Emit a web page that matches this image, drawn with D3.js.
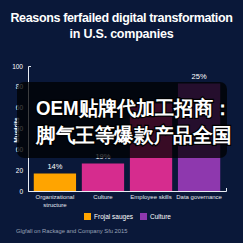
<!DOCTYPE html>
<html><head><meta charset="utf-8">
<script src="https://cdn.jsdelivr.net/npm/d3@7"></script>
<style>
html,body{margin:0;padding:0;background:#0a1839;}
svg{display:block;}
text{font-family:"Liberation Sans",Arial,sans-serif;}
</style></head>
<body>
<svg id="c" width="243" height="243"></svg>
<script>
const categories = [["Organizational","structure"],["Culture"],["Employee skills"],["Data governance"]];
const values = [14, 22, 70, 86];
const valueLabels = ["14%", "19%", "", "25%"];
const barColors = ["#ffa400", "#d62c8e", "#d62c8e", "#8e38ae"];
const tickValues = [0, 16.67, 33.33, 50, 66.67, 83.33, 100];
const tickLabels = ["0", "20", "60", "40", "60", "80", "100"];
const legendItems = ["Frojal sauges", "Culture"];
const legendColors = ["#ffa400", "#8e38ae"];
const titleLines = ["Reasons ferfailed digital transformation", "in U.S. companies"];
const sourceText = "Glgfall on Rackage and Company Sfu 2015";
const overlayLines = ["OEM贴牌代加工招商：", "脚气王等爆款产品全国"];

const svg = d3.select("#c");
svg.append("rect").attr("width",243).attr("height",243).attr("fill","#0a1839");

// title
const tt = svg.selectAll("text.title").data(titleLines).join("text")
  .attr("class","title")
  .attr("x",121.5).attr("y",(d,i)=>22+i*16)
  .attr("text-anchor","middle").attr("fill","#ffffff")
  .attr("font-weight","bold").attr("font-size",12.5)
  .text(d=>d);
tt.each(function(d,i){
  const target = i===0 ? 222 : 104;
  const w = this.getComputedTextLength();
  const ls = (target - w) / d.length;
  d3.select(this).attr("letter-spacing", ls.toFixed(2));
});

const x = d3.scaleBand().domain(d3.range(categories.length)).range([28,226]).paddingInner(0.12).paddingOuter(0.12);
const y = d3.scaleLinear().domain([0,100]).range([191,66]);

// bars
svg.selectAll("rect.bar").data(values).join("rect")
  .attr("x",(d,i)=>x(i)).attr("width",x.bandwidth())
  .attr("y",d=>y(d)).attr("height",d=>y(0)-y(d))
  .attr("fill",(d,i)=>barColors[i]);

// value labels
svg.selectAll("text.vl").data(values).join("text")
  .attr("x",(d,i)=>x(i)+x.bandwidth()/2).attr("y",d=>y(d)-5)
  .attr("text-anchor","middle").attr("fill","#ffffff").attr("font-size",7.5)
  .text((d,i)=>valueLabels[i]);

// y axis
const yAxis = d3.axisLeft(y).tickValues(tickValues).tickFormat((d,i)=>tickLabels[i]).tickSize(0).tickSizeOuter(-3).tickPadding(5);
const gy = svg.append("g").attr("transform","translate(28,0)").call(yAxis);
gy.select(".domain").attr("stroke","#e8ecf4").attr("stroke-width",1);
gy.selectAll("text").attr("fill","#ffffff").attr("font-size",6.5).attr("font-family","Liberation Sans, Arial, sans-serif");

// x axis
const xAxis = d3.axisBottom(x).tickSize(0).tickSizeOuter(-3).tickFormat(()=>"");
const gx = svg.append("g").attr("transform","translate(0,191)").call(xAxis);
gx.select(".domain").attr("stroke","#e8ecf4").attr("stroke-width",1);

// x labels
const xl = svg.selectAll("text.xl").data(categories).join("text")
  .attr("text-anchor","middle").attr("fill","#e6e8ee").attr("font-size",6)
  .attr("x",(d,i)=>x(i)+x.bandwidth()/2).attr("y",199);
xl.selectAll("tspan").data(d=>d).join("tspan")
  .attr("x",function(){return this.parentNode.getAttribute("x");})
  .attr("dy",(d,i)=>i===0?0:8).text(d=>d);

// y title
svg.append("text").attr("transform","translate(19,130) rotate(-90)")
  .attr("text-anchor","middle").attr("fill","#ffffff").attr("font-size",6.5).attr("font-weight","bold")
  .text("Mustrits");

// legend
const lg = svg.selectAll("g.lg").data(legendItems).join("g")
  .attr("transform",(d,i)=>`translate(${84+i*56},213)`);
lg.append("rect").attr("width",7).attr("height",7).attr("fill",(d,i)=>legendColors[i]);
lg.append("text").attr("x",10).attr("y",6).attr("fill","#ffffff").attr("font-size",6.5).text(d=>d);

// source
svg.append("text").attr("x",16).attr("y",233).attr("fill","#9aa3b8").attr("font-size",5.8).text(sourceText);

// overlay
svg.append("rect").attr("x",17).attr("y",82).attr("width",210).attr("height",76).attr("rx",7)
  .attr("fill","#000000").attr("fill-opacity",0.74);
svg.selectAll("text.ov").data(overlayLines).join("text")
  .attr("x",36).attr("y",(d,i)=>115+i*27)
  .attr("fill","#ffffff").attr("font-size",19.5).attr("font-weight","bold")
  .attr("font-family","'Noto Sans CJK SC', sans-serif")
  .attr("stroke","#000").attr("stroke-width",2.5).attr("paint-order","stroke")
  .attr("textLength",196).attr("lengthAdjust","spacingAndGlyphs")
  .text(d=>d);
</script>
</body></html>
